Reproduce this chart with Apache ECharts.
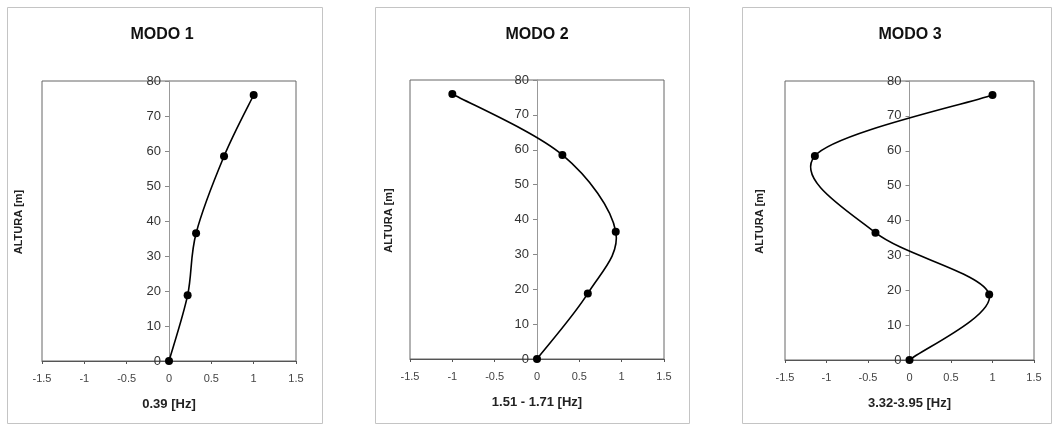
<!DOCTYPE html>
<html><head><meta charset="utf-8">
<script src="https://cdn.jsdelivr.net/npm/echarts@6/dist/echarts.min.js"></script>
<style>html,body{margin:0;padding:0;background:#fff}#c{width:1053px;height:427px}</style>
</head><body><div id="c"></div>
<script>
// Heights (m) of the measured levels
const heights = [0, 18.8, 36.5, 58.5, 76];
// Mode shapes (normalized amplitude) at each height
const modo1 = [0, 0.22, 0.32, 0.65, 1.0];
const modo2 = [0, 0.60, 0.93, 0.30, -1.0];
const modo3 = [0, 0.96, -0.41, -1.14, 1.0];
const titles = ['MODO 1', 'MODO 2', 'MODO 3'];
const freqLabels = ['0.39 [Hz]', '1.51 - 1.71 [Hz]', '3.32-3.95 [Hz]'];
const yName = 'ALTURA [m]';
const modes = [modo1, modo2, modo3];

const FONT = 'Arial, "Liberation Sans", sans-serif';
const grids = [
  {left: 42, top: 81, width: 254, height: 280},
  {left: 410, top: 80, width: 254, height: 279},
  {left: 785, top: 81, width: 249, height: 279}
];
const titleCenters = [157, 532, 905];
const yNamePos = [19, 389, 760];
const chart = echarts.init(document.getElementById('c'), null, {renderer: 'canvas'});

// Smoothed (Catmull-Rom style, like a spreadsheet "smoothed line") segment renderer.
function makeCurveRenderer(xs) {
  return function (params, api) {
    const i = params.dataIndex;
    const n = xs.length;
    if (i >= n - 1) return null;
    const P = k => api.coord([xs[Math.max(0, Math.min(n - 1, k))], heights[Math.max(0, Math.min(n - 1, k))]]);
    const p0 = P(i - 1), p1 = P(i), p2 = P(i + 1), p3 = P(i + 2);
    const t = 1 / 6;
    return {
      type: 'bezierCurve',
      shape: {
        x1: p1[0], y1: p1[1], x2: p2[0], y2: p2[1],
        cpx1: p1[0] + (p2[0] - p0[0]) * t, cpy1: p1[1] + (p2[1] - p0[1]) * t,
        cpx2: p2[0] - (p3[0] - p1[0]) * t, cpy2: p2[1] - (p3[1] - p1[1]) * t
      },
      style: {stroke: '#000', lineWidth: 1.6, fill: null}
    };
  };
}

const option = {
  backgroundColor: '#fff',
  animation: false,
  title: grids.map((g, i) => ({
    text: titles[i],
    left: titleCenters[i],
    top: 22,
    textAlign: 'center',
    textStyle: {fontFamily: FONT, fontSize: 16, fontWeight: 'bold', color: '#111'}
  })),
  graphic: [
    {type: 'rect', shape: {x: 7.5, y: 7.5, width: 315, height: 416}, style: {fill: 'none', stroke: '#c4c4c4', lineWidth: 1}, z: -1},
    {type: 'rect', shape: {x: 375.5, y: 7.5, width: 314, height: 416}, style: {fill: 'none', stroke: '#c4c4c4', lineWidth: 1}, z: -1},
    {type: 'rect', shape: {x: 742.5, y: 7.5, width: 309, height: 416}, style: {fill: 'none', stroke: '#c4c4c4', lineWidth: 1}, z: -1}
  ].concat(grids.map((g, i) => ({
    type: 'text', x: yNamePos[i], y: g.top + g.height / 2 + 1, rotation: Math.PI / 2,
    style: {text: yName, fontFamily: FONT, fontSize: 11, fontWeight: 'bold', fill: '#222', align: 'center', verticalAlign: 'middle'}
  }))),
  grid: grids.map(g => Object.assign({show: true, borderColor: '#666', borderWidth: 1, backgroundColor: 'transparent', containLabel: false, outerBoundsMode: 'none'}, g)),
  xAxis: grids.map((g, i) => ({
    type: 'value', gridIndex: i, min: -1.5, max: 1.5, interval: 0.5,
    name: freqLabels[i], nameLocation: 'middle', nameGap: 37,
    nameTextStyle: {fontFamily: FONT, fontSize: 13, fontWeight: 'bold', color: '#222'},
    axisLine: {show: true, onZero: false, lineStyle: {color: '#555', width: 1}},
    axisTick: {show: true, length: 3, lineStyle: {color: '#555'}},
    axisLabel: {fontFamily: FONT, fontSize: 11, color: '#444', margin: 12},
    splitLine: {show: false}
  })),
  yAxis: grids.map((g, i) => ({
    type: 'value', gridIndex: i, min: 0, max: 80, interval: 10,
    position: 'left', offset: -g.width / 2,
    axisLine: {show: true, onZero: false, lineStyle: {color: '#999', width: 1}},
    axisTick: {show: true, length: 4, lineStyle: {color: '#888'}},
    axisLabel: {fontFamily: FONT, fontSize: 13, color: '#333', margin: 8},
    splitLine: {show: false}
  })),
  series: modes.map((m, i) => ({
    type: 'custom', xAxisIndex: i, yAxisIndex: i,
    data: m.map((v, k) => [v, heights[k]]),
    renderItem: makeCurveRenderer(m),
    z: 4
  })).concat(modes.map((m, i) => ({
    type: 'scatter', xAxisIndex: i, yAxisIndex: i,
    data: m.map((v, k) => [v, heights[k]]),
    symbol: 'circle', symbolSize: 8,
    itemStyle: {color: '#000', opacity: 1},
    z: 5
  })))
};
chart.setOption(option);
</script></body></html>
